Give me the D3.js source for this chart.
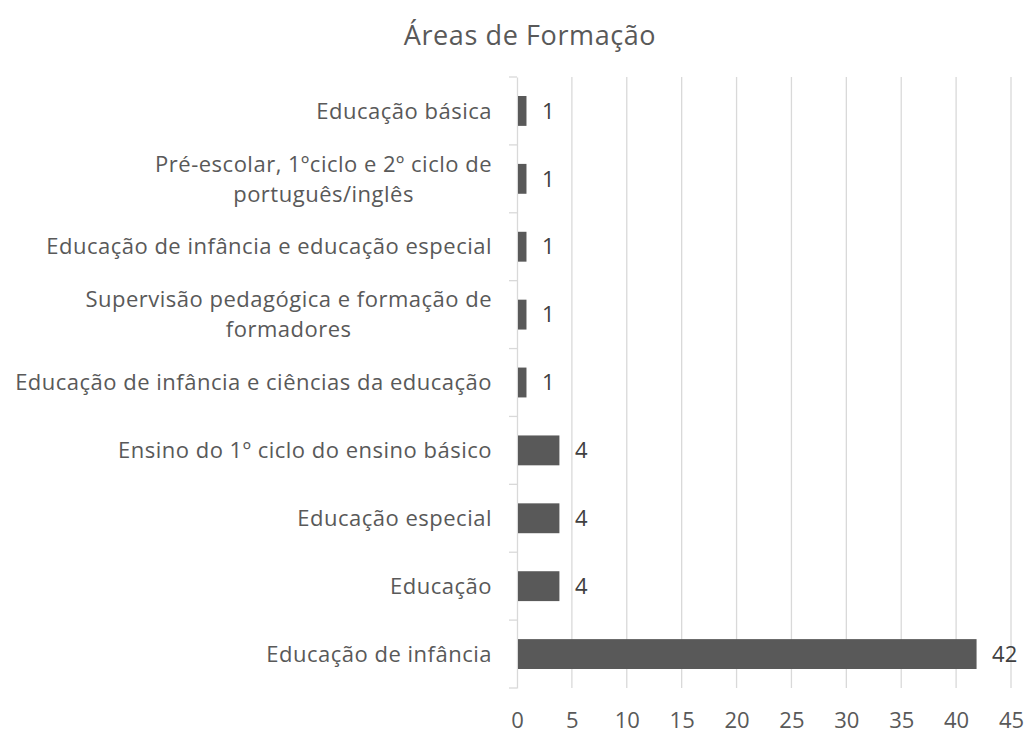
<!DOCTYPE html>
<html>
<head>
<meta charset="utf-8">
<script src="https://cdn.jsdelivr.net/npm/d3@7"></script>
<style>
  body { margin: 0; background: #fff; }
  svg { font-family: "Open Sans", sans-serif; }
</style>
</head>
<body>
<svg id="chart" width="1028" height="735"></svg>
<script>
// categories top to bottom, wrapped into lines as in the original
const categories = [
  ["Educação básica"],
  ["Pré-escolar, 1ºciclo e 2º ciclo de", "português/inglês"],
  ["Educação de infância e educação especial"],
  ["Supervisão pedagógica e formação de", "formadores"],
  ["Educação de infância e ciências da educação"],
  ["Ensino do 1º ciclo do ensino básico"],
  ["Educação especial"],
  ["Educação"],
  ["Educação de infância"]
];
const values = [1, 1, 1, 1, 1, 4, 4, 4, 42];
const xTicks = [0, 5, 10, 15, 20, 25, 30, 35, 40, 45];
const title = "Áreas de Formação";

const svg = d3.select("#chart");

const plotLeft = 517, plotRight = 1011, plotTop = 77, plotBottom = 688;

const keys = categories.map((c) => c.join(" "));
const x = d3.scaleLinear().domain([0, 45]).range([plotLeft, plotRight]);
const y = d3.scaleBand().domain(keys).range([plotTop, plotBottom]).paddingInner(0.56).paddingOuter(0.28);
const yb = d3.scaleBand().domain(keys).range([plotTop, plotBottom]);

svg.append("text").text(title)
  .attr("x", 530).attr("y", 45)
  .attr("text-anchor", "middle")
  .attr("font-size", "27px")
  .attr("letter-spacing", "0.6px")
  .attr("fill", "#595959");

// vertical gridlines
svg.append("g").selectAll("line")
  .data(xTicks.slice(1))
  .enter().append("line")
  .attr("x1", (d) => x(d)).attr("x2", (d) => x(d))
  .attr("y1", plotTop).attr("y2", plotBottom)
  .attr("stroke", "#d9d9d9").attr("stroke-width", 1.3);

// x tick labels
const xAxis = svg.append("g")
  .attr("transform", "translate(0," + (plotBottom + 32) + ")")
  .call(d3.axisBottom(x).tickValues(xTicks).tickSize(0).tickPadding(0));
xAxis.select(".domain").remove();
xAxis.selectAll("text").attr("font-size", "22px").attr("fill", "#595959")
  .attr("font-family", "Open Sans, sans-serif").attr("dy", "0.35em");

// left axis line with category ticks
const yAxis = svg.append("g")
  .attr("transform", "translate(" + plotLeft + ",0)")
  .call(d3.axisLeft(yb).tickSize(0).tickFormat(""));
yAxis.select(".domain").attr("stroke", "#d9d9d9").attr("stroke-width", 1.3);
svg.append("g").selectAll("line")
  .data(keys.concat([null]))
  .enter().append("line")
  .attr("x1", plotLeft - 8).attr("x2", plotLeft)
  .attr("y1", (d) => d === null ? plotBottom : yb(d))
  .attr("y2", (d) => d === null ? plotBottom : yb(d))
  .attr("stroke", "#d9d9d9").attr("stroke-width", 1.3);

// bars
svg.append("g").selectAll(".bar")
  .data(values)
  .enter().append("rect")
  .attr("class", "bar")
  .attr("x", x(0) + 1)
  .attr("y", (d, i) => y(keys[i]))
  .attr("width", (d) => x(d) - x(0) - 2.5)
  .attr("height", y.bandwidth())
  .attr("fill", "#595959");

// data labels
svg.append("g").selectAll("text")
  .data(values)
  .enter().append("text")
  .text((d) => d)
  .attr("x", (d) => x(d) + 14)
  .attr("y", (d, i) => yb(keys[i]) + yb.bandwidth() / 2)
  .attr("dy", "0.35em")
  .attr("font-size", "22px")
  .attr("fill", "#404040");

// category labels (wrapped lines centred under the widest line)
const labels = svg.append("g").selectAll("text")
  .data(categories)
  .enter().append("text")
  .attr("font-size", "22px")
  .attr("letter-spacing", "0.5px")
  .attr("fill", "#595959");
labels.each(function (lines, i) {
  const cy = yb(keys[i]) + yb.bandwidth() / 2;
  const t = d3.select(this);
  if (lines.length === 1) {
    t.append("tspan").text(lines[0])
      .attr("x", 492).attr("y", cy).attr("dy", "0.35em")
      .attr("text-anchor", "end");
  } else {
    const first = t.append("tspan").text(lines[0])
      .attr("y", cy - 15).attr("dy", "0.35em")
      .attr("text-anchor", "middle");
    const w = first.node().getComputedTextLength();
    const cx = 492 - w / 2;
    first.attr("x", cx);
    t.append("tspan").text(lines[1])
      .attr("x", cx).attr("y", cy + 15).attr("dy", "0.35em")
      .attr("text-anchor", "middle");
  }
});
</script>
</body>
</html>
